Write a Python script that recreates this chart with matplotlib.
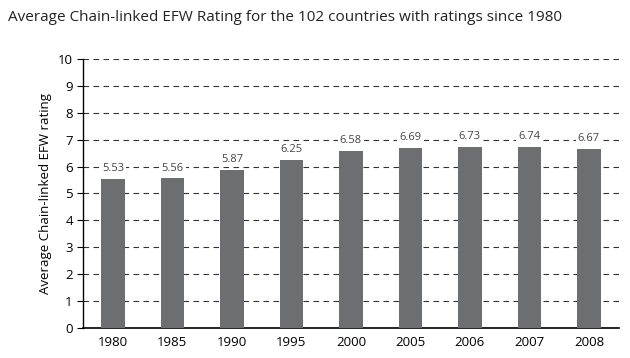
import matplotlib.pyplot as plt

years = ["1980", "1985", "1990", "1995", "2000", "2005", "2006", "2007", "2008"]
ratings = [5.53, 5.56, 5.87, 6.25, 6.58, 6.69, 6.73, 6.74, 6.67]
yticks = list(range(0, 11))

plt.rcParams["font.family"] = ["Open Sans", "DejaVu Sans"]

fig = plt.figure(figsize=(6.3, 3.58), dpi=100)
ax = fig.add_axes([0.132, 0.084, 0.85, 0.751])

x = range(len(years))
ax.bar(x, ratings, width=0.4, color="#6d6e71", zorder=3)
for xi, v in zip(x, ratings):
    ax.text(xi, v + 0.18, f"{v:.2f}", ha="center", va="bottom", fontsize=8, color="#444444", zorder=4,
            bbox=dict(facecolor="white", edgecolor="none", pad=1.5))

ax.set_xlim(-0.5, 8.5)
ax.set_ylim(0, 10)
ax.set_yticks(yticks)
ax.set_xticks(list(x))
ax.set_xticklabels(years)
ax.tick_params(axis="x", length=0, labelsize=9.5, pad=6)
ax.tick_params(axis="y", length=4, labelsize=9.5, width=0.8)
ax.yaxis.grid(True, linestyle=(0, (5, 4)), color="#333333", linewidth=0.8, zorder=0)

for s in ["top", "right"]:
    ax.spines[s].set_visible(False)
ax.spines["left"].set_linewidth(1.0)
ax.spines["bottom"].set_linewidth(1.2)

ax.set_ylabel("Average Chain-linked EFW rating", fontsize=9.5)
fig.text(0.013, 0.95, "Average Chain-linked EFW Rating for the 102 countries with ratings since 1980",
         fontsize=11, ha="left", va="center", color="#222222")

fig.savefig("out.png", dpi=100)
